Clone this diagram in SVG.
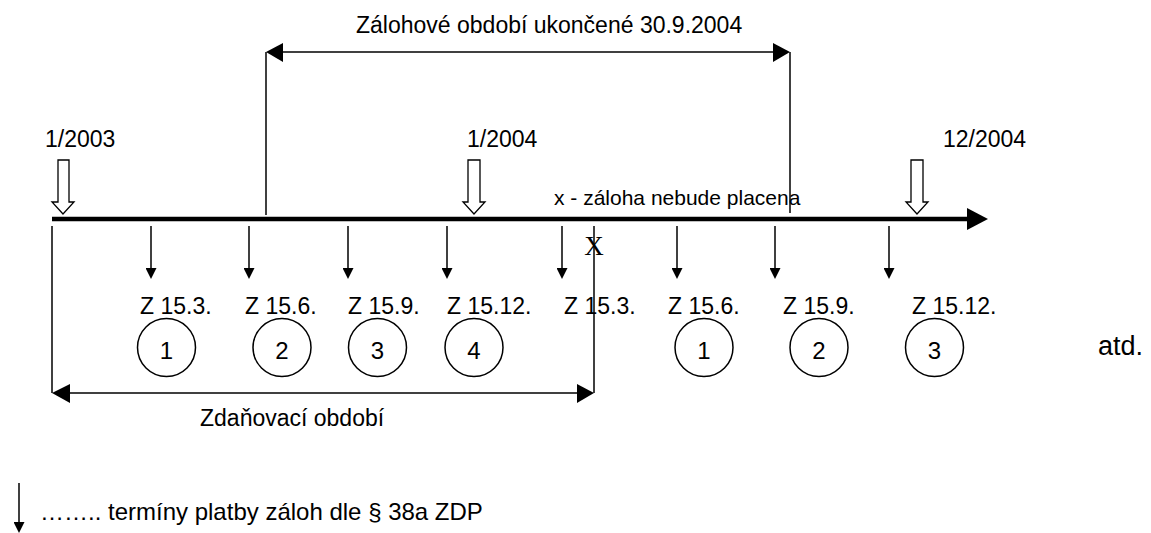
<svg xmlns="http://www.w3.org/2000/svg" width="1151" height="533" viewBox="0 0 1151 533">
<style>
text{font-family:"Liberation Sans",Arial,sans-serif;font-size:23px;fill:#000}
.ln{stroke:#000;stroke-width:1.5;fill:none}
.hd{fill:#000;stroke:none}
.blk{fill:#fff;stroke:#000;stroke-width:1.3}
.c{fill:#fff;stroke:#000;stroke-width:1.5}
.mid{text-anchor:middle}
.num{font-size:24px}
</style>
<defs>
<marker id="ah" markerWidth="11" markerHeight="11" refX="5.5" refY="0" orient="0" markerUnits="userSpaceOnUse">
<path d="M0,0 L11,0 L5.5,11 Z" fill="#000"/>
</marker>
</defs>
<rect width="1151" height="533" fill="#fff"/>

<g id="connectors">
  <!-- main timeline -->
  <line x1="52" y1="219" x2="970" y2="219" stroke="#000" stroke-width="4.5"/>
  <polygon class="hd" points="967,208 988,219 967,230"/>
  <!-- upper bracket -->
  <line class="ln" x1="266" y1="52" x2="266" y2="215"/>
  <line class="ln" x1="790" y1="52" x2="790" y2="213"/>
  <line class="ln" x1="270" y1="52" x2="786" y2="52"/>
  <polygon class="hd" points="266,52 283,43 283,62"/>
  <polygon class="hd" points="790,52 773,43 773,62"/>
  <!-- lower bracket -->
  <line class="ln" x1="52" y1="226" x2="52" y2="393"/>
  <line class="ln" x1="594" y1="226" x2="594" y2="393"/>
  <line class="ln" x1="56" y1="393" x2="590" y2="393"/>
  <polygon class="hd" points="52,393 70,384 70,403"/>
  <polygon class="hd" points="594,393 577,384 577,403"/>
  <!-- payment arrows -->
  <line class="ln" x1="151" y1="226" x2="151" y2="268" marker-end="url(#ah)"/>
  <line class="ln" x1="249" y1="226" x2="249" y2="268" marker-end="url(#ah)"/>
  <line class="ln" x1="348" y1="226" x2="348" y2="268" marker-end="url(#ah)"/>
  <line class="ln" x1="447" y1="226" x2="447" y2="268" marker-end="url(#ah)"/>
  <line class="ln" x1="562" y1="226" x2="562" y2="268" marker-end="url(#ah)"/>
  <line class="ln" x1="677" y1="226" x2="677" y2="268" marker-end="url(#ah)"/>
  <line class="ln" x1="775" y1="226" x2="775" y2="268" marker-end="url(#ah)"/>
  <line class="ln" x1="889" y1="226" x2="889" y2="268" marker-end="url(#ah)"/>
  <!-- legend arrow -->
  <line class="ln" x1="19" y1="483" x2="19" y2="522" marker-end="url(#ah)"/>
</g>

<g id="period-label">
  <text x="356" y="33">Zálohové období ukončené 30.9.2004</text>
</g>

<g id="m-2003-01">
  <path class="blk" d="M58,160 H69 V202 H74 L63,214 L52,202 H58 Z"/>
  <text x="45" y="147">1/2003</text>
</g>
<g id="m-2004-01">
  <path class="blk" d="M468,160 H480 V202 H485 L474,214 L463,202 H468 Z"/>
  <text x="467" y="147">1/2004</text>
</g>
<g id="m-2004-12">
  <path class="blk" d="M911,160 H923 V202 H928 L917,214 L906,202 H911 Z"/>
  <text x="943" y="147">12/2004</text>
</g>

<g id="note-x">
  <text x="554" y="205" style="font-size:21px">x - záloha nebude placena</text>
  <text x="594" y="255" class="mid" style="font-family:'Liberation Serif','Times New Roman',serif;font-size:27px">X</text>
</g>

<g id="labels">
  <text x="140" y="314">Z 15.3.</text>
  <text x="245" y="314">Z 15.6.</text>
  <text x="348" y="314">Z 15.9.</text>
  <text x="447" y="314">Z 15.12.</text>
  <text x="564" y="314">Z 15.3.</text>
  <text x="668" y="314">Z 15.6.</text>
  <text x="783" y="314">Z 15.9.</text>
  <text x="912" y="314">Z 15.12.</text>
</g>

<g id="c1"><circle class="c" cx="166.5" cy="347.5" r="29"/><text class="mid num" x="166.5" y="359">1</text></g>
<g id="c2"><circle class="c" cx="282" cy="347.5" r="29"/><text class="mid num" x="282" y="359">2</text></g>
<g id="c3"><circle class="c" cx="377.5" cy="347.5" r="29"/><text class="mid num" x="377.5" y="359">3</text></g>
<g id="c4"><circle class="c" cx="474" cy="347.5" r="29"/><text class="mid num" x="474" y="359">4</text></g>
<g id="c5"><circle class="c" cx="704" cy="347.5" r="29"/><text class="mid num" x="704" y="359">1</text></g>
<g id="c6"><circle class="c" cx="819" cy="347.5" r="29"/><text class="mid num" x="819" y="359">2</text></g>
<g id="c7"><circle class="c" cx="934.5" cy="347.5" r="29"/><text class="mid num" x="934.5" y="359">3</text></g>

<g id="atd"><text x="1098" y="355" style="font-size:27px">atd.</text></g>

<g id="tax-period"><text x="200" y="426">Zdaňovací období</text></g>

<g id="legend"><text x="40" y="520" style="font-size:24px">…….. termíny platby záloh dle § 38a ZDP</text></g>
</svg>
